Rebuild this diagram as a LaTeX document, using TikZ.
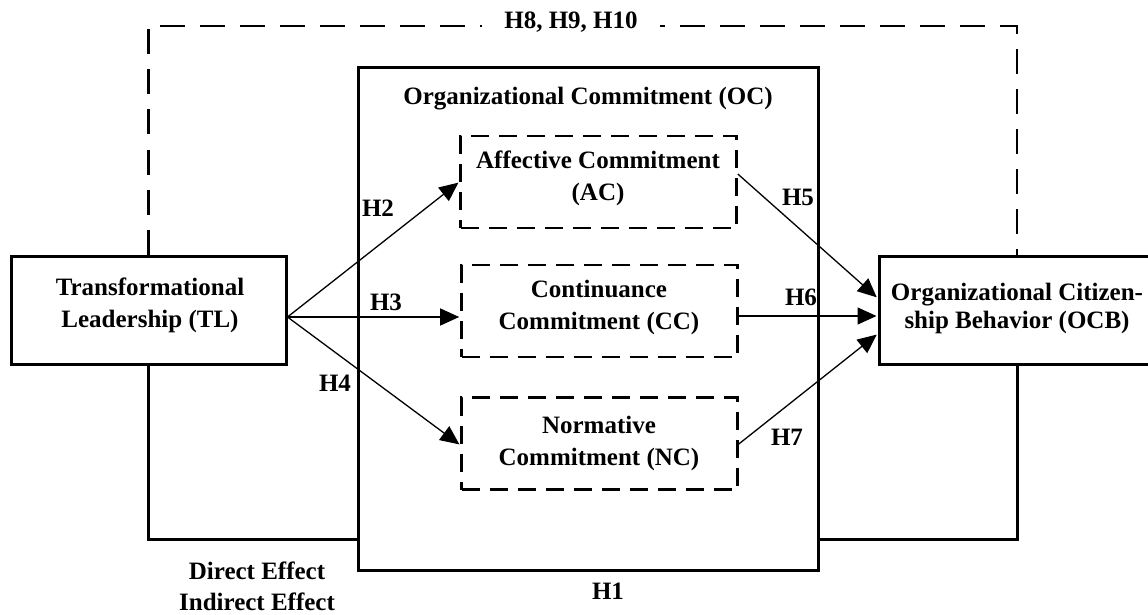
\documentclass[tikz,border=0pt]{standalone}
\usepackage{fontspec}
\setmainfont{Liberation Serif}
\usetikzlibrary{arrows.meta,calc}
\begin{document}
\begin{tikzpicture}[x=1pt,y=-1pt,
  every node/.style={font=\fontsize{25}{32}\selectfont\bfseries, inner sep=0pt},
  solidbox/.style={draw, line width=3pt},
  dashbox/.style={draw, line width=2.6pt, dash pattern=on 18pt off 10pt, minimum width=276pt, minimum height=92pt},
  conn/.style={line width=3pt},
  dconn/.style={line width=2.8pt, dash pattern=on 25pt off 15pt},
  arr/.style={line width=1.3pt, -{Triangle[length=19pt,width=17pt]}, shorten >=1pt},
  txt/.style={align=center},
]
\useasboundingbox (0,0) rectangle (1148,615);
\clip (0,0) rectangle (1148,615);

% boxes
\node[solidbox, minimum width=275pt, minimum height=108pt] (TL) at (148.5,310) {};
\node[solidbox, minimum width=276pt, minimum height=108pt] (OCB) at (1017,310) {};
\node[solidbox, minimum width=460pt, minimum height=502pt] (OC) at (588,319) {};
\node[dashbox] (AC) at (598.5,182) {};
\node[dashbox] (CC) at (599.5,311) {};
\node[dashbox] (NC) at (599.5,443.5) {};

% texts
\node[txt] (TLt) at (150,305.5) {Transformational\\Leadership (TL)};
\node[txt, font=\fontsize{25}{28}\selectfont\bfseries] (OCBt) at (1017,308) {Organizational Citizen-\\ship Behavior (OCB)};
\node (OCt) at (588,99) {Organizational Commitment (OC)};
\node[txt] (ACt) at (598,178.5) {Affective Commitment\\(AC)};
\node[txt] (CCt) at (599,307.5) {Continuance\\Commitment (CC)};
\node[txt] (NCt) at (599,443.5) {Normative\\Commitment (NC)};
\node[txt, font=\fontsize{25}{31}\selectfont\bfseries] (eff) at (257,586.5) {Direct Effect\\Indirect Effect};

% outer connectors
\coordinate (topy) at (0,26);
\coordinate (boty) at (0,539);
\draw[dconn] (TL.north) |- (topy -| OCB.north) -- (OCB.north);
\draw[conn] (TL.south) |- (boty -| OC.west);
\draw[conn] (OCB.south) |- (boty -| OC.east);

% arrows
\coordinate (tlo) at ([yshift=-7pt]TL.east);
\draw[arr] (tlo) -- (AC.west);
\draw[arr] (tlo) -- ([yshift=-6pt]CC.west);
\draw[arr] (tlo) -- ([yshift=-1.5pt]NC.west);
\draw[arr] ([yshift=8pt]AC.east) -- ([yshift=12pt]OCB.west);
\draw[arr] ([yshift=-5pt]CC.east) -- ([yshift=-6pt]OCB.west);
\draw[arr] ([yshift=-0.5pt]NC.east) -- ([yshift=-24pt]OCB.west);

% labels
\node[fill=white, inner xsep=22pt, inner ysep=3pt] (H8) at (571,22.5) {H8, H9, H10};
\node (H1) at (608,591) {H1};
\node (H2) at (378,208) {H2};
\node (H3) at (386,302) {H3};
\node (H4) at (335,383) {H4};
\node (H5) at (798,197) {H5};
\node (H6) at (801,297) {H6};
\node (H7) at (787,437) {H7};
\end{tikzpicture}
\end{document}
